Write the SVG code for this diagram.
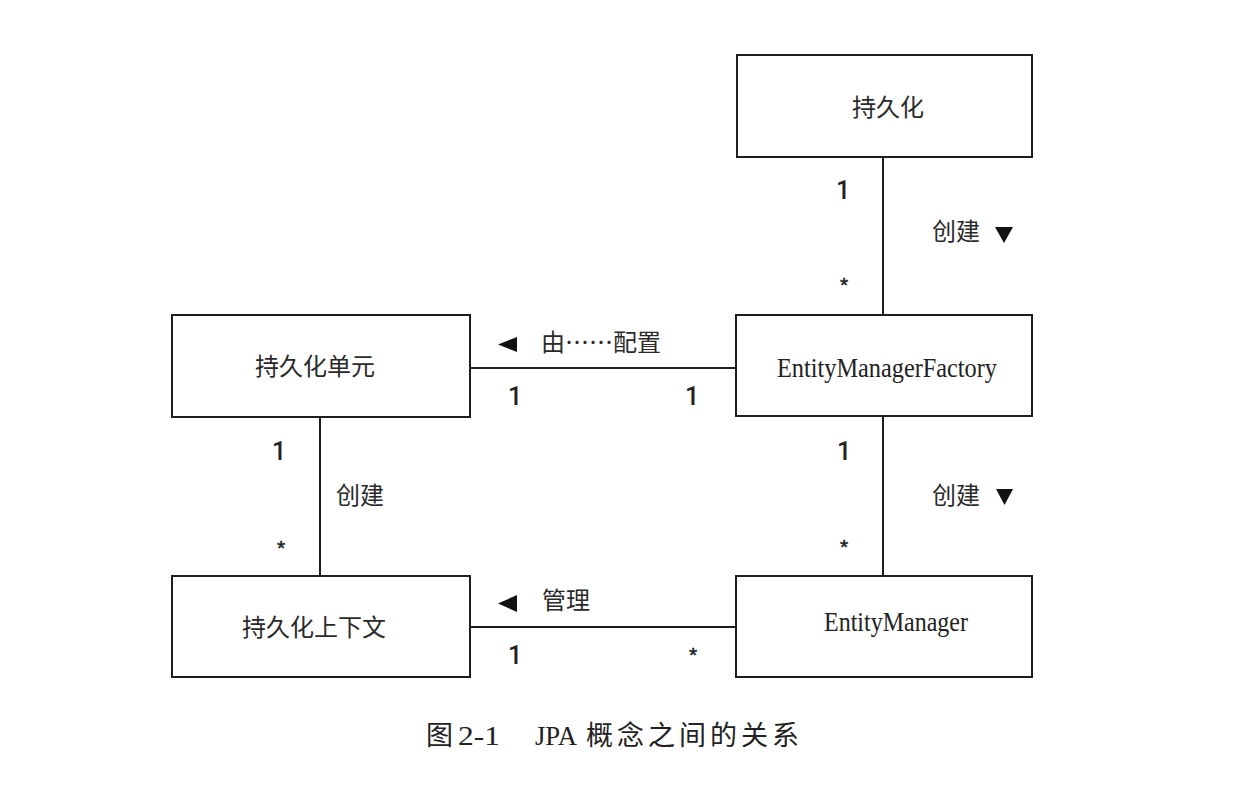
<svg xmlns="http://www.w3.org/2000/svg" width="1234" height="791" viewBox="0 0 1234 791">
<style>
.box{fill:#fff;stroke:#1e1e1e;stroke-width:2}
.ln{stroke:#1e1e1e;stroke-width:2;fill:none}
.zh{font-family:"Noto Sans CJK SC","Noto Sans",sans-serif;font-size:24px;fill:#2a2a2a}
.en{font-family:"Liberation Serif","Times New Roman",serif;font-size:27px;fill:#222}
.num{font-family:Roboto,"Liberation Sans",Arial,sans-serif;font-size:25px;font-weight:500;fill:#222}
.star{font-family:"Liberation Sans",Arial,sans-serif;font-size:21px;fill:#222;stroke:#222;stroke-width:0.5}
.tri{fill:#111}
.cap{font-family:"Noto Sans CJK SC","Noto Sans",sans-serif;font-size:27px;fill:#222}
.capen{font-family:"Liberation Serif","Times New Roman",serif;font-size:28px;fill:#222}
</style>
<rect width="1234" height="791" fill="#fff"/>
<g id="connectors">
<line class="ln" x1="883" y1="157" x2="883" y2="315"/>
<line class="ln" x1="883" y1="416" x2="883" y2="576"/>
<line class="ln" x1="320" y1="417" x2="320" y2="576"/>
<line class="ln" x1="470" y1="368" x2="736" y2="368"/>
<line class="ln" x1="470" y1="627" x2="736" y2="627"/>
<text class="num" x="843" y="199" text-anchor="middle">1</text>
<text class="star" x="844" y="292" text-anchor="middle">*</text>
<text class="zh" x="932" y="240">创建</text>
<polygon class="tri" points="995,227 1013,227 1004,243"/>
<text class="num" x="844" y="460" text-anchor="middle">1</text>
<text class="star" x="844" y="554" text-anchor="middle">*</text>
<text class="zh" x="932" y="504">创建</text>
<polygon class="tri" points="996,489 1013,489 1004.5,505"/>
<text class="num" x="279" y="460" text-anchor="middle">1</text>
<text class="star" x="281" y="555" text-anchor="middle">*</text>
<text class="zh" x="336" y="504">创建</text>
<polygon class="tri" points="517,337 517,352 498,344.5"/>
<text class="zh" x="541" y="351">由……配置</text>
<text class="num" x="515" y="405" text-anchor="middle">1</text>
<text class="num" x="692" y="405" text-anchor="middle">1</text>
<polygon class="tri" points="517,595 517,612 498,603.5"/>
<text class="zh" x="542" y="609">管理</text>
<text class="num" x="515" y="664" text-anchor="middle">1</text>
<text class="star" x="693" y="662" text-anchor="middle">*</text>
</g>
<g id="persistence">
<rect class="box" x="737" y="55" width="295" height="102"/>
<text class="zh" x="888" y="116" text-anchor="middle">持久化</text>
</g>
<g id="emf">
<rect class="box" x="736" y="315" width="296" height="101"/>
<text class="en" x="777" y="377" textLength="220" lengthAdjust="spacingAndGlyphs">EntityManagerFactory</text>
</g>
<g id="persistence-unit">
<rect class="box" x="172" y="315" width="298" height="102"/>
<text class="zh" x="315" y="375" text-anchor="middle">持久化单元</text>
</g>
<g id="persistence-context">
<rect class="box" x="172" y="576" width="298" height="101"/>
<text class="zh" x="314" y="636" text-anchor="middle">持久化上下文</text>
</g>
<g id="em">
<rect class="box" x="736" y="576" width="296" height="101"/>
<text class="en" x="824" y="631" textLength="144" lengthAdjust="spacingAndGlyphs">EntityManager</text>
</g>
<g id="caption">
<text class="cap" x="426" y="745">图</text>
<text class="capen" x="458" y="745" textLength="42" lengthAdjust="spacingAndGlyphs">2-1</text>
<text class="capen" x="535" y="745" textLength="42" lengthAdjust="spacingAndGlyphs">JPA</text>
<text class="cap" x="586 617 648 679 710 741 772" y="745">概念之间的关系</text>
</g>
</svg>
